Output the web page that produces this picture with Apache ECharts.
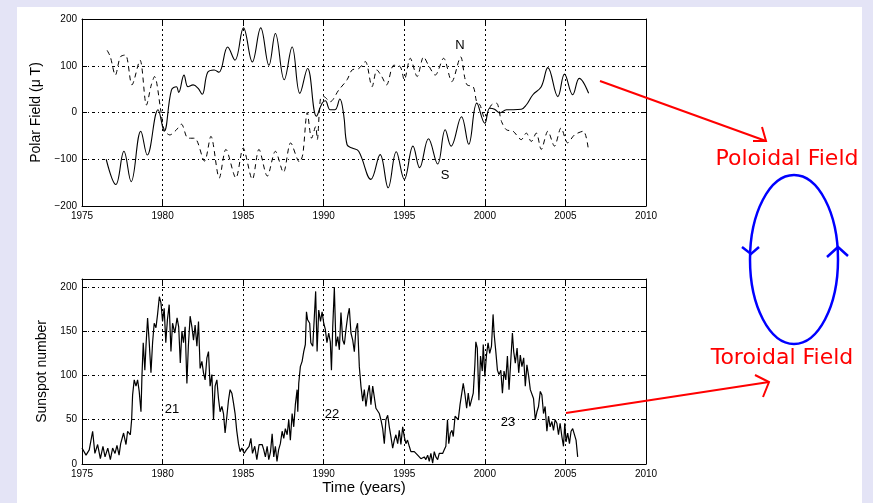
<!DOCTYPE html>
<html lang="en">

<head>
    <meta charset="UTF-8">
    <title>Polar field and sunspot number</title>
    <style>
        body {
            margin: 0;
            overflow: hidden;
            background-color: #e4e4f6;
        }

        .paper {
            position: absolute;
            left: 17px;
            top: 7px;
            width: 845px;
            height: 496px;
            background-color: #fff;
        }

        #chart {
            position: absolute;
            left: 0;
            top: 0;
        }
    </style>
</head>

<body>
    <div class="paper"></div>
    <div id="chart" style="width:873px;height:503px;"></div>
    <script type="text/javascript" src="https://cdn.jsdelivr.net/npm/echarts/dist/echarts.min.js"></script>
    <script type="text/javascript">
        // x axis (years), shared by both panels
        var yearMin = 1975, yearMax = 2010, yearStep = 5;

        // polar field, top panel (uT)
        var polarTicks = [-200, -100, 0, 100, 200];
        // south pole, solid line
        var polarS = [
            [1976.5, -100], [1977.1, -154], [1977.6, -83], [1978.05, -148], [1978.65, -40], [1979.05, -91],
            [1979.72, 6], [1980.1, -40], [1980.55, 48], [1980.86, 55], [1981.0, 43], [1981.33, 80],
            [1981.58, 55], [1981.9, 59], [1982.2, 52], [1982.46, 39], [1982.8, 86], [1983.2, 91],
            [1983.5, 86], [1984.04, 140], [1984.49, 112], [1985.02, 181], [1985.57, 108], [1986.09, 181],
            [1986.6, 101], [1987.0, 169], [1987.55, 70], [1988.04, 140], [1988.52, 41], [1989.0, 94],
            [1989.55, -8], [1989.9, 20], [1990.1, 25], [1990.4, 6], [1990.7, 6], [1991.0, 29],
            [1991.24, -5], [1991.45, -69], [1991.76, -76], [1992.17, -83], [1992.93, -143], [1993.5, -90],
            [1994.0, -161], [1994.5, -84], [1995.0, -143], [1995.54, -72], [1995.95, -118], [1996.5, -56],
            [1997.07, -110], [1997.54, -37], [1997.9, -72], [1998.55, -9], [1999.0, -68], [1999.5, 20],
            [2000.0, -23], [2000.3, 9], [2000.6, 7], [2000.93, -1], [2001.34, 6], [2001.75, 6],
            [2002.26, 7], [2002.57, 16], [2002.98, 38], [2003.5, 55], [2003.91, 96], [2004.53, 34],
            [2004.94, 82], [2005.45, 38], [2005.86, 73], [2006.44, 41]
        ];
        // north pole, dashed line
        var polarN = [
            [1976.56, 133], [1976.76, 119], [1977.07, 80], [1977.38, 119], [1977.7, 123], [1978.1, 59],
            [1978.6, 112], [1979.0, 16], [1979.3, 59], [1979.5, 77], [1979.9, 2], [1980.1, -37],
            [1980.45, -48], [1980.86, -37], [1981.17, -25], [1981.58, -55], [1981.99, -55], [1982.6, -104],
            [1983.0, -51], [1983.52, -140], [1983.93, -79], [1984.55, -140], [1985.0, -76], [1985.57, -143],
            [1985.98, -79], [1986.5, -136], [1987.0, -83], [1987.5, -128], [1987.95, -65], [1988.5, -106],
            [1988.7, -90], [1988.98, 0], [1989.25, -55], [1989.5, -30], [1989.6, -58], [1989.8, 30],
            [1990.0, 34], [1990.4, 23], [1990.93, 48], [1991.45, 70], [1991.76, 91], [1992.17, 94],
            [1992.58, 109], [1993.0, 55], [1993.3, 91], [1993.6, 77], [1993.9, 59], [1994.35, 101],
            [1994.75, 98], [1995.0, 70], [1995.37, 116], [1995.8, 77], [1996.2, 119], [1996.5, 101],
            [1996.92, 80], [1997.44, 116], [1997.95, 66], [1998.5, 119], [1998.75, 75], [1998.9, 59],
            [1999.28, 55], [1999.49, 23], [1999.7, 16], [2000.0, -12], [2000.4, 16], [2000.72, 20],
            [2001.03, -19], [2001.34, -37], [2001.75, -40], [2002.26, -58], [2002.57, -44], [2002.88, -62],
            [2003.19, -44], [2003.5, -79], [2003.91, -40], [2004.32, -72], [2004.73, -33], [2005.14, -65],
            [2005.56, -48], [2006.11, -40], [2006.44, -83]
        ];

        // sunspot number, bottom panel
        var sunspotTicks = [0, 50, 100, 150, 200];
        var sunspotTop = 209;
        var sunspot = [
            [1975.0, 18], [1975.1, 18], [1975.25, 10], [1975.45, 16], [1975.66, 37], [1975.8, 12],
            [1975.97, 22], [1976.14, 6], [1976.3, 20], [1976.43, 8], [1976.6, 18], [1976.76, 5],
            [1976.9, 18], [1977.05, 12], [1977.17, 21], [1977.3, 10], [1977.4, 23], [1977.58, 35],
            [1977.73, 22], [1977.83, 37], [1978.0, 33], [1978.08, 50], [1978.14, 78], [1978.24, 95],
            [1978.35, 88], [1978.45, 95], [1978.55, 82], [1978.66, 59], [1978.72, 99], [1978.8, 137],
            [1978.9, 106], [1978.97, 133], [1979.07, 165], [1979.17, 138], [1979.28, 103], [1979.38, 137],
            [1979.48, 159], [1979.59, 154], [1979.69, 169], [1979.8, 189], [1979.9, 182], [1980.0, 161],
            [1980.1, 176], [1980.2, 137], [1980.3, 163], [1980.41, 180], [1980.52, 127], [1980.62, 159],
            [1980.76, 148], [1980.9, 165], [1981.0, 155], [1981.1, 114], [1981.2, 150], [1981.3, 137],
            [1981.4, 155], [1981.51, 91], [1981.6, 133], [1981.71, 167], [1981.82, 155], [1981.92, 140],
            [1982.02, 157], [1982.13, 133], [1982.23, 161], [1982.33, 108], [1982.44, 116], [1982.54, 103],
            [1982.64, 95], [1982.75, 120], [1982.85, 127], [1982.95, 88], [1983.06, 101], [1983.16, 50],
            [1983.26, 88], [1983.37, 95], [1983.47, 74], [1983.57, 59], [1983.68, 65], [1983.78, 57],
            [1983.88, 35], [1983.99, 54], [1984.09, 72], [1984.19, 84], [1984.3, 80], [1984.4, 69],
            [1984.5, 57], [1984.6, 38], [1984.71, 23], [1984.81, 14], [1984.92, 18], [1985.06, 12],
            [1985.2, 16], [1985.37, 20], [1985.48, 29], [1985.58, 12], [1985.72, 20], [1985.85, 5],
            [1985.99, 22], [1986.18, 22], [1986.28, 16], [1986.38, 8], [1986.49, 20], [1986.59, 5],
            [1986.7, 14], [1986.8, 34], [1986.9, 8], [1987.0, 20], [1987.1, 3], [1987.2, 16],
            [1987.31, 23], [1987.42, 37], [1987.52, 29], [1987.62, 40], [1987.73, 33], [1987.83, 50],
            [1987.93, 27], [1988.04, 57], [1988.14, 42], [1988.24, 67], [1988.35, 84], [1988.39, 59],
            [1988.45, 91], [1988.55, 110], [1988.66, 116], [1988.76, 127], [1988.86, 135], [1988.93, 172],
            [1989.0, 163], [1989.13, 159], [1989.2, 137], [1989.32, 133], [1989.42, 167], [1989.5, 195],
            [1989.59, 127], [1989.69, 174], [1989.8, 161], [1989.9, 172], [1990.0, 159], [1990.1, 152],
            [1990.2, 137], [1990.31, 148], [1990.41, 138], [1990.48, 106], [1990.56, 155], [1990.66, 199],
            [1990.76, 133], [1990.87, 144], [1990.97, 129], [1991.07, 171], [1991.18, 140], [1991.28, 135],
            [1991.38, 152], [1991.49, 167], [1991.59, 176], [1991.69, 148], [1991.8, 140], [1991.9, 127],
            [1992.0, 152], [1992.1, 159], [1992.21, 110], [1992.31, 88], [1992.42, 71], [1992.52, 84],
            [1992.62, 65], [1992.73, 80], [1992.83, 89], [1992.93, 67], [1993.04, 88], [1993.14, 89],
            [1993.24, 63], [1993.35, 61], [1993.45, 57], [1993.55, 50], [1993.66, 40], [1993.76, 23],
            [1993.86, 50], [1993.97, 55], [1994.07, 42], [1994.17, 31], [1994.28, 18], [1994.38, 27],
            [1994.48, 33], [1994.59, 23], [1994.69, 38], [1994.79, 22], [1994.9, 42], [1995.0, 31],
            [1995.1, 23], [1995.2, 27], [1995.31, 20], [1995.41, 14], [1995.52, 16], [1995.62, 14],
            [1995.72, 12], [1995.83, 10], [1995.93, 10], [1996.03, 6], [1996.14, 5], [1996.24, 8],
            [1996.34, 5], [1996.45, 10], [1996.55, 3], [1996.65, 12], [1996.76, 1], [1996.86, 14],
            [1996.96, 8], [1997.07, 5], [1997.17, 12], [1997.27, 10], [1997.38, 12], [1997.48, 16],
            [1997.58, 20], [1997.68, 50], [1997.76, 23], [1997.86, 35], [1997.96, 38], [1998.04, 31],
            [1998.15, 54], [1998.25, 55], [1998.35, 50], [1998.46, 67], [1998.56, 69], [1998.66, 91],
            [1998.77, 78], [1998.87, 63], [1998.97, 80], [1999.07, 65], [1999.18, 67], [1999.28, 80],
            [1999.38, 112], [1999.44, 138], [1999.53, 131], [1999.63, 72], [1999.73, 122], [1999.84, 105],
            [1999.9, 135], [2000.0, 99], [2000.1, 123], [2000.2, 137], [2000.3, 125], [2000.41, 133],
            [2000.51, 169], [2000.58, 146], [2000.68, 127], [2000.78, 106], [2000.88, 101], [2000.99, 106],
            [2001.09, 80], [2001.19, 105], [2001.3, 95], [2001.4, 122], [2001.5, 84], [2001.6, 114],
            [2001.71, 148], [2001.79, 127], [2001.89, 114], [2002.0, 131], [2002.1, 103], [2002.2, 123],
            [2002.3, 110], [2002.41, 120], [2002.51, 88], [2002.61, 112], [2002.72, 99], [2002.82, 84],
            [2002.92, 86], [2003.02, 74], [2003.13, 50], [2003.23, 59], [2003.33, 65], [2003.44, 82],
            [2003.54, 78], [2003.64, 57], [2003.74, 65], [2003.85, 37], [2003.95, 54], [2004.05, 42],
            [2004.16, 48], [2004.26, 38], [2004.36, 50], [2004.47, 46], [2004.57, 33], [2004.67, 46],
            [2004.78, 31], [2004.88, 20], [2004.96, 46], [2005.04, 25], [2005.14, 35], [2005.25, 23],
            [2005.35, 37], [2005.45, 40], [2005.56, 38], [2005.66, 27], [2005.76, 8]
        ];

        var labelFont = 'Liberation Sans, Arial, sans-serif';
        var noteFont = 'DejaVu Sans, sans-serif';
        var red = '#ff0000', blue = '#0000ff';

        // MATLAB-like box axis: black line, ticks inside, dotted grid
        function xAxisOf(grid, pos, withLabels) {
            return {
                gridIndex: grid,
                type: 'value',
                position: pos,
                min: yearMin,
                max: yearMax,
                interval: yearStep,
                axisLine: { show: true, onZero: false, lineStyle: { color: '#000', width: 1 } },
                axisTick: { show: true, inside: true, length: 5, lineStyle: { color: '#000' } },
                axisLabel: {
                    show: withLabels, color: '#000', fontSize: 10, fontFamily: labelFont, margin: 5,
                    formatter: function (v) { return '' + v; }
                },
                splitLine: {
                    show: withLabels,
                    lineStyle: { color: '#000', width: 1, type: [2, 3] }
                }
            };
        }

        function yAxisOf(grid, pos, ticks, top, withLabels) {
            return {
                gridIndex: grid,
                type: 'value',
                position: pos,
                min: ticks[0],
                max: top,
                interval: ticks[1] - ticks[0],
                axisLine: { show: true, onZero: false, lineStyle: { color: '#000', width: 1 } },
                axisTick: { show: true, inside: true, length: 5, lineStyle: { color: '#000' } },
                axisLabel: {
                    show: withLabels, color: '#000', fontSize: 10, fontFamily: labelFont, margin: 5,
                    formatter: function (v) {
                        if (ticks.indexOf(v) < 0) return '';
                        return v < 0 ? '\u2212' + (-v) : '' + v;
                    }
                },
                splitLine: {
                    show: withLabels,
                    lineStyle: { color: '#000', width: 1, type: [3, 3, 1, 3] }
                }
            };
        }

        var xAxes = [
            xAxisOf(0, 'bottom', true), xAxisOf(0, 'top', false),
            xAxisOf(1, 'bottom', true), xAxisOf(1, 'top', false)
        ];
        xAxes[2].name = 'Time (years)';
        xAxes[2].nameLocation = 'middle';
        xAxes[2].nameGap = 15;
        xAxes[2].nameTextStyle = { color: '#000', fontSize: 15, fontFamily: labelFont };

        var yAxes = [
            yAxisOf(0, 'left', polarTicks, polarTicks[polarTicks.length - 1], true),
            yAxisOf(0, 'right', polarTicks, polarTicks[polarTicks.length - 1], false),
            yAxisOf(1, 'left', sunspotTicks, sunspotTop, true),
            yAxisOf(1, 'right', sunspotTicks, sunspotTop, false)
        ];
        yAxes[0].name = 'Polar Field (\u03bc T)';
        yAxes[0].nameLocation = 'middle';
        yAxes[0].nameGap = 38;
        yAxes[0].nameTextStyle = { color: '#000', fontSize: 14, fontFamily: labelFont };
        yAxes[2].name = 'Sunspot number';
        yAxes[2].nameLocation = 'middle';
        yAxes[2].nameGap = 30;
        yAxes[2].nameTextStyle = { color: '#000', fontSize: 14, fontFamily: labelFont };

        function txt(x, y, s, size, color, font) {
            return {
                type: 'text', x: x, y: y, z: 10,
                style: {
                    text: s, fill: color || '#000', fontSize: size, fontFamily: font || labelFont,
                    align: 'center', verticalAlign: 'middle'
                }
            };
        }

        function poly(points, color, width) {
            return {
                type: 'polyline', z: 10,
                shape: { points: points },
                style: { stroke: color, lineWidth: width, fill: null }
            };
        }

        var myChart = echarts.init(document.getElementById('chart'));

        var option = {
            animation: false,
            backgroundColor: 'transparent',
            grid: [
                { left: 82, top: 19, width: 564, height: 187 },
                { left: 82, top: 279, width: 564, height: 185 }
            ],
            xAxis: xAxes,
            yAxis: yAxes,
            series: [{
                name: 'S',
                type: 'line',
                xAxisIndex: 0,
                yAxisIndex: 0,
                showSymbol: false,
                smooth: 0.4,
                lineStyle: { color: '#000', width: 1.1 },
                data: polarS
            }, {
                name: 'N',
                type: 'line',
                xAxisIndex: 0,
                yAxisIndex: 0,
                showSymbol: false,
                smooth: 0.3,
                lineStyle: { color: '#000', width: 1, type: [5, 4] },
                data: polarN
            }, {
                name: 'Sunspot',
                type: 'line',
                xAxisIndex: 2,
                yAxisIndex: 2,
                showSymbol: false,
                lineStyle: { color: '#000', width: 1.2 },
                data: sunspot
            }],
            graphic: [
                txt(460, 45, 'N', 13),
                txt(445, 175, 'S', 13),
                txt(172, 409, '21', 13),
                txt(332, 414, '22', 13),
                txt(508, 422, '23', 13),
                // poloidal / toroidal annotation
                txt(787, 159, 'Poloidal Field', 22, red, noteFont),
                txt(782, 358, 'Toroidal Field', 22, red, noteFont),
                poly([[600, 81], [766, 141]], red, 2),
                poly([[762, 127], [766, 141], [753, 141]], red, 2),
                poly([[566, 413], [769, 382]], red, 2),
                poly([[755, 375], [769, 382], [763, 397]], red, 2),
                {
                    type: 'ellipse', z: 10,
                    shape: { cx: 794, cy: 259.5, rx: 44, ry: 84.5 },
                    style: { stroke: blue, lineWidth: 2.5, fill: null }
                },
                poly([[742, 247], [751, 254], [759, 247]], blue, 2.5),
                poly([[827, 257], [838, 247], [848, 256]], blue, 2.5)
            ]
        };

        myChart.setOption(option);
    </script>
</body>

</html>
